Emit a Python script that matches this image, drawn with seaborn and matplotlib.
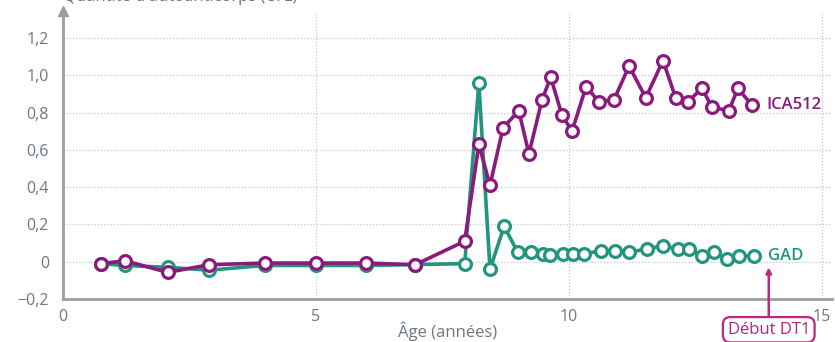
import matplotlib.pyplot as plt
import matplotlib as mpl
import numpy as np
import seaborn as sns

# ICA512 (violet)
ica_age = [0.75, 1.23, 2.07, 2.89, 3.99, 5.0, 5.98, 6.96, 7.94, 8.22, 8.44, 8.70,
           9.01, 9.21, 9.47, 9.64, 9.86, 10.06, 10.34, 10.59, 10.89, 11.19, 11.52,
           11.86, 12.11, 12.35, 12.63, 12.83, 13.16, 13.34, 13.62]
ica_val = [-0.01, 0.005, -0.057, -0.016, -0.007, -0.007, -0.007, -0.016, 0.11, 0.63,
           0.41, 0.72, 0.81, 0.58, 0.87, 0.99, 0.79, 0.70, 0.94, 0.86, 0.87, 1.05,
           0.88, 1.08, 0.88, 0.86, 0.93, 0.83, 0.81, 0.93, 0.84]

# GAD (vert)
gad_age = [0.75, 1.23, 2.07, 2.89, 3.99, 5.0, 5.98, 6.96, 7.94, 8.22, 8.44, 8.72,
           8.99, 9.25, 9.49, 9.62, 9.88, 10.08, 10.30, 10.63, 10.91, 11.19, 11.54,
           11.86, 12.15, 12.37, 12.63, 12.87, 13.12, 13.36, 13.66]
gad_val = [-0.01, -0.02, -0.03, -0.045, -0.02, -0.02, -0.02, -0.015, -0.01, 0.96,
           -0.04, 0.19, 0.05, 0.05, 0.04, 0.035, 0.04, 0.04, 0.04, 0.06, 0.06, 0.05,
           0.07, 0.085, 0.07, 0.07, 0.03, 0.05, 0.015, 0.03, 0.03]

debut_dt1 = 13.95

sns.set_style("white")
mpl.rcParams["font.family"] = ["Open Sans", "DejaVu Sans"]

purple = "#8a1a7c"
green = "#23947e"
gray = "#9a9ea3"
txt = "#6f7780"

fig = plt.figure(figsize=(8.35, 3.42), dpi=100)
ax = fig.add_axes([0.0754, 0.1257, 0.921, 0.839])

common = dict(marker="o", markersize=8.5, markerfacecolor="white",
              markeredgewidth=2.3, linewidth=2.6, ax=ax)
sns.lineplot(x=gad_age, y=gad_val, color=green, markeredgecolor=green, **common)
sns.lineplot(x=ica_age, y=ica_val, color=purple, markeredgecolor=purple, **common)

ax.set_xlim(0, 15.2)
ax.set_ylim(-0.2, 1.34)
ax.set_xticks([0, 5, 10, 15])
ax.set_yticks([-0.2, 0, 0.2, 0.4, 0.6, 0.8, 1.0, 1.2])
ax.set_yticklabels(["\u22120,2", "0", "0,2", "0,4", "0,6", "0,8", "1,0", "1,2"])
ax.grid(True, linestyle=(0, (1, 1.5)), color="#c4c8cc", linewidth=0.9)
ax.set_axisbelow(True)

for s in ["top", "right"]:
    ax.spines[s].set_visible(False)
for s in ["left", "bottom"]:
    ax.spines[s].set_color(gray)
    ax.spines[s].set_linewidth(2)
ax.tick_params(axis="both", colors=gray, length=6, width=2, labelcolor=txt,
               labelsize=11.5, direction="out")
ax.tick_params(axis="y", pad=4)
ax.tick_params(axis="x", pad=1)
ax.plot(0, 1.005, marker="^", color=gray, markersize=7, transform=ax.transAxes,
        clip_on=False)

ax.set_xlabel("Âge (années)", color=txt, fontsize=12, labelpad=-2)
fig.text(0.075, 1.008, "Quantité d'autoanticorps (U/L)", color=txt, fontsize=12,
         ha="left", va="center")

ax.text(ica_age[-1] + 0.28, ica_val[-1], "ICA512", color=purple, fontsize=12,
        fontweight="semibold", va="center", ha="left")
ax.text(gad_age[-1] + 0.28, gad_val[-1], "GAD", color=green, fontsize=12,
        fontweight="semibold", va="center", ha="left")

ax.annotate("Début DT1", xy=(debut_dt1, -0.03), xytext=(debut_dt1, -0.365),
            color="#b3237f", fontsize=12, ha="center", va="center",
            annotation_clip=False,
            bbox=dict(boxstyle="round,pad=0.28,rounding_size=0.45", fc="white",
                      ec="#c0267f", lw=1.6),
            arrowprops=dict(arrowstyle="-|>", color="#c0267f", lw=1.8,
                            mutation_scale=8, shrinkA=0, shrinkB=0))

plt.savefig("out.png", dpi=100)
plt.close()
